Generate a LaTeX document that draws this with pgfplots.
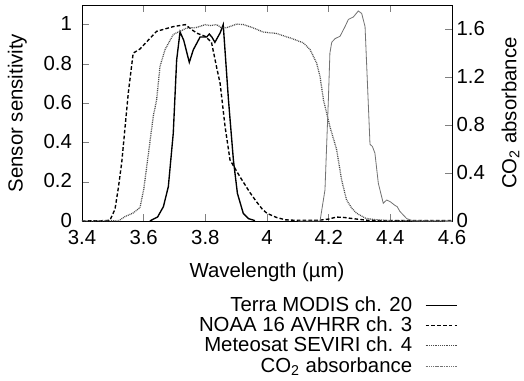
\documentclass[border=0pt]{standalone}
\usepackage{pgfplots}
\pgfplotsset{compat=1.18}
\usepackage{fontspec}
\setmainfont{Liberation Sans}
\definecolor{co2gray}{gray}{0.45}
\definecolor{sevgray}{gray}{0.3}
\begin{document}
\begin{tikzpicture}[font=\fontsize{11.2}{13.4}\selectfont]
\useasboundingbox (-45.1pt,-87.45pt) rectangle (243.1pt,121.55pt);
\begin{axis}[
  scale only axis, width=203.5pt, height=118.8pt,
  xmin=3.4, xmax=4.6, ymin=0, ymax=1.1,
  xtick={3.4,3.6,...,4.61}, ytick={0,0.2,...,1.01},
  ytick pos=left, xtick pos=both, tick align=inside,
  major tick length=4pt,
  /pgf/number format/assume math mode=true,
  xticklabel style={/pgf/number format/fixed, yshift=-1.8pt},
  yticklabel style={/pgf/number format/fixed, xshift=-2pt, yshift=0.5pt},
  xlabel={Wavelength (µm)}, ylabel={Sensor sensitivity},
  xlabel style={at={(axis description cs:0.5,-0.238)},anchor=center},
  ylabel style={at={(axis description cs:-0.175,0.5)},anchor=center},
  legend style={at={(axis description cs:1.03,-0.315)}, anchor=north east,
    draw=none, fill=none, row sep=-2.5pt, column sep=5pt},
  legend cell align=right, legend plot pos=right,
  clip=true,
]
\addplot[black, line width=0.75pt] coordinates {
(3.620,0.000)(3.626,0.005)(3.645,0.020)(3.664,0.073)(3.680,0.175)(3.696,0.447)
(3.707,0.820)(3.718,0.963)(3.730,0.920)(3.748,0.808)(3.761,0.872)(3.783,0.937)
(3.804,0.937)(3.813,0.952)(3.822,0.935)(3.831,0.910)(3.848,0.958)(3.858,1.000)
(3.875,0.617)(3.891,0.311)(3.904,0.141)(3.923,0.039)(3.940,0.012)(3.961,0.002)
};
\addlegendentry{Terra MODIS ch. 20}
\addplot[black, line width=0.75pt, dash pattern=on 2pt off 1.2pt] coordinates {
(3.400,0.000)(3.480,0.002)(3.491,0.005)(3.507,0.060)(3.518,0.170)(3.529,0.300)
(3.550,0.650)(3.566,0.855)(3.588,0.876)(3.642,0.966)(3.696,0.990)(3.735,1.000)
(3.760,0.970)(3.775,0.955)(3.800,0.940)(3.820,0.910)(3.837,0.780)(3.848,0.700)
(3.864,0.481)(3.880,0.311)(3.912,0.226)(3.945,0.144)(3.965,0.100)(3.985,0.060)
(4.000,0.039)(4.031,0.018)(4.060,0.006)(4.100,0.003)(4.170,0.004)(4.200,0.010)
(4.225,0.020)(4.250,0.018)(4.290,0.010)(4.330,0.003)(4.600,0.002)
};
\addlegendentry{NOAA 16 AVHRR ch. 3}
\addplot[sevgray, line width=0.7pt, dash pattern=on 0.5pt off 0.5pt] coordinates {
(3.400,0.000)(3.520,0.002)(3.539,0.022)(3.565,0.040)(3.588,0.068)(3.600,0.160)
(3.610,0.277)(3.631,0.532)(3.642,0.617)(3.653,0.787)(3.669,0.872)(3.696,0.950)
(3.740,0.983)(3.770,0.985)(3.800,1.000)(3.815,0.995)(3.837,1.000)(3.853,0.983)
(3.870,0.985)(3.902,1.003)(3.925,1.000)(3.956,0.983)(3.988,0.962)(4.031,0.955)
(4.085,0.927)(4.118,0.907)(4.140,0.872)(4.161,0.804)(4.172,0.736)(4.183,0.617)
(4.204,0.481)(4.226,0.362)(4.242,0.209)(4.258,0.107)(4.275,0.065)(4.291,0.039)
(4.320,0.014)(4.345,0.008)(4.388,0.002)(4.600,0.000)
};
\addlegendentry{Meteosat SEVIRI ch. 4}
\addlegendimage{co2gray, line width=0.45pt, dash pattern=on 0.6pt off 0.4pt}
\addlegendentry{CO\textsubscript{2} absorbance}
\end{axis}
\begin{axis}[
  scale only axis, width=203.5pt, height=118.8pt,
  xmin=3.4, xmax=4.6, ymin=0, ymax=1.8,
  axis y line*=right, axis x line=none,
  ytick={0,0.4,...,1.61}, tick align=inside,
  major tick length=4pt,
  /pgf/number format/assume math mode=true,
  yticklabel style={/pgf/number format/fixed, xshift=-1pt, yshift=0.5pt},
  ylabel={CO\textsubscript{2} absorbance},
  ylabel style={at={(axis description cs:1.158,0.5)},anchor=center},
]
\addplot[co2gray, line width=0.45pt] coordinates {
(4.100,0.000)(4.172,0.000)(4.188,0.259)(4.199,1.010)(4.204,1.400)(4.210,1.490)
(4.221,1.520)(4.237,1.540)(4.253,1.620)(4.264,1.680)(4.280,1.700)(4.296,1.750)
(4.307,1.730)(4.318,1.620)(4.334,0.640)(4.342,0.620)(4.350,0.565)(4.361,0.315)
(4.377,0.148)(4.388,0.175)(4.400,0.160)(4.415,0.130)(4.422,0.120)(4.431,0.080)
(4.453,0.020)(4.475,0.000)(4.600,0.000)
};
\end{axis}
\end{tikzpicture}
\end{document}
